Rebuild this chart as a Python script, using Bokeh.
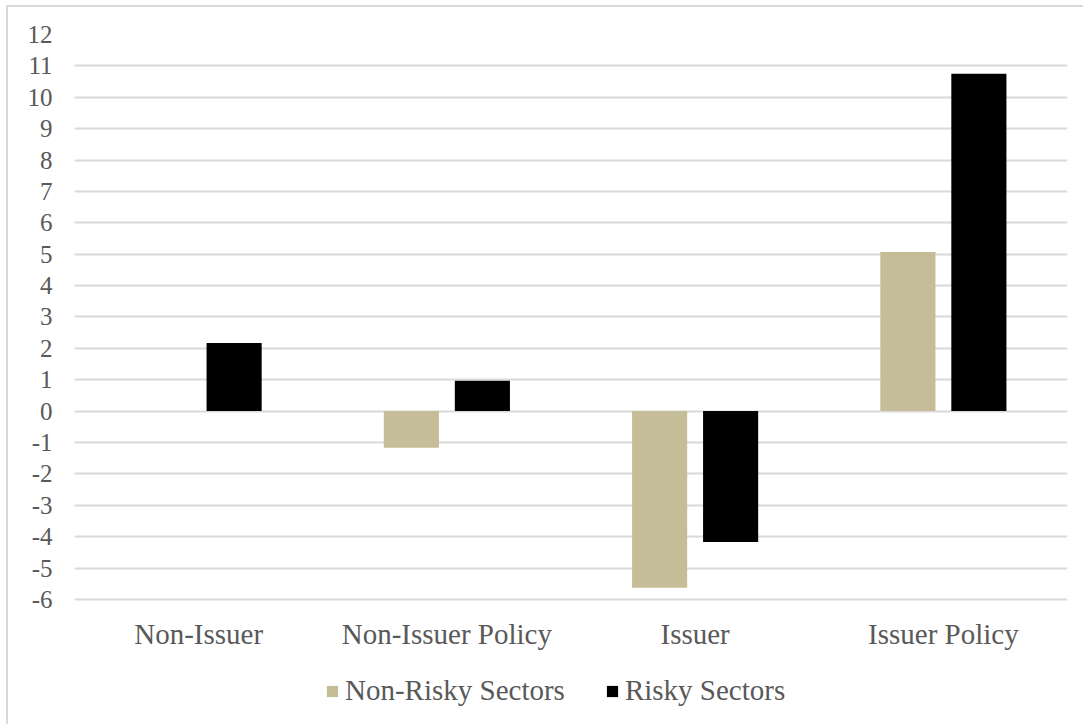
from bokeh.plotting import figure
from bokeh.models import ColumnDataSource, FactorRange, Legend, LegendItem, FixedTicker
from bokeh.transform import dodge
from bokeh.core.properties import value
from bokeh.embed import file_html
from bokeh.resources import INLINE

categories = ["Non-Issuer", "Non-Issuer Policy", "Issuer", "Issuer Policy"]
non_risky = [0.0, -1.17, -5.63, 5.07]
risky = [2.17, 0.97, -4.17, 10.75]
y_ticks = list(range(-6, 13))

src = ColumnDataSource(dict(cat=categories, nr=non_risky, r=risky,
                            ybase=[min(y_ticks)] * len(categories)))

FONT = "Liberation Serif"
GRAY = "#595959"

# frame extends below the lowest tick to host category labels and legend
p = figure(width=1077, height=719, x_range=FactorRange(*categories, range_padding=0),
           y_range=(-10.05, 12), output_backend="svg", toolbar_location=None,
           min_border_left=66, min_border_right=18, min_border_top=27, min_border_bottom=0)
p.styles = {"border-left": "2px solid #d9d9d9", "border-top": "2px solid #d9d9d9",
            "margin-left": "6px", "margin-top": "5px"}
p.outline_line_color = None

r1 = p.vbar(x=dodge("cat", -0.143, range=p.x_range), top="nr", bottom=0, width=0.222,
            source=src, fill_color="#C4BD97", line_color=None)
r2 = p.vbar(x=dodge("cat", 0.143, range=p.x_range), top="r", bottom=0, width=0.222,
            source=src, fill_color="#000000", line_color=None)

p.text(x="cat", y="ybase", text="cat", source=src, y_offset=35,
       text_align="center", text_baseline="middle", text_font=value(FONT),
       text_font_size="29px", text_color=GRAY)

p.xaxis.visible = False
p.xgrid.grid_line_color = None
p.ygrid.grid_line_color = "#d9d9d9"
p.ygrid.grid_line_width = 2
p.ygrid.level = "underlay"

p.yaxis.ticker = FixedTicker(ticks=y_ticks)
p.yaxis.major_label_overrides = {t: str(t) for t in y_ticks}
ax = p.yaxis
ax.axis_line_color = None
ax.major_tick_line_color = None
ax.minor_tick_line_color = None
ax.major_tick_out = 0
ax.major_tick_in = 0
ax.major_label_text_font = FONT
ax.major_label_text_color = GRAY
ax.major_label_text_font_size = "25px"
ax.major_label_standoff = 22

legend = Legend(items=[LegendItem(label="Non-Risky Sectors", renderers=[r1]),
                       LegendItem(label="Risky Sectors", renderers=[r2])],
                orientation="horizontal", location=(251, 19),
                label_text_font=FONT, label_text_font_size="29px", label_text_color=GRAY,
                glyph_width=14, glyph_height=14, label_standoff=6, spacing=40,
                background_fill_alpha=0, border_line_color=None, padding=0, margin=0)
p.add_layout(legend, "center")

open("out.html", "w").write(file_html(p, INLINE))
